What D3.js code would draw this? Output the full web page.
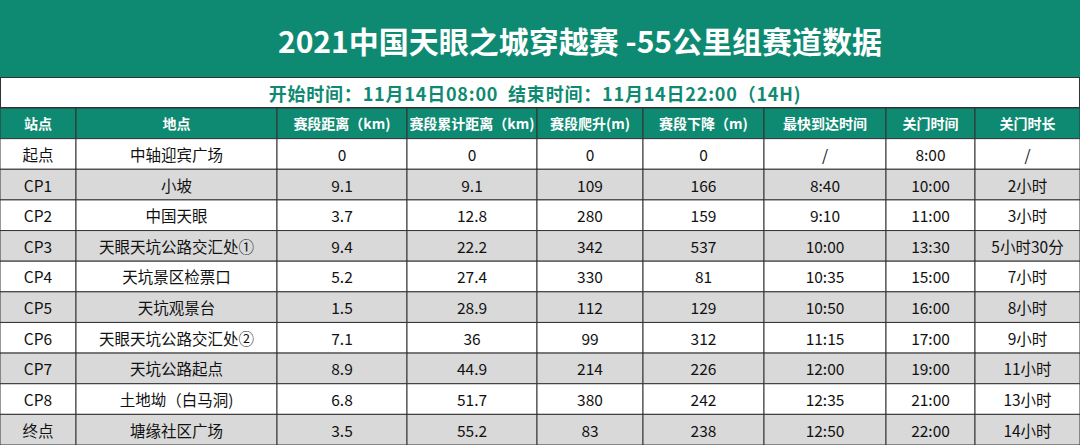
<!DOCTYPE html>
<html><head><meta charset="utf-8">
<script src="https://cdn.jsdelivr.net/npm/d3@7"></script>
<style>body{margin:0;background:#fff}text{font-family:"Noto Sans CJK SC","Noto Sans",sans-serif}</style>
</head><body><div id="chart"></div>
<script>
// table data
var title = "2021中国天眼之城穿越赛 -55公里组赛道数据";
var subtitle = "开始时间：11月14日08:00  结束时间：11月14日22:00（14H)";
var headers = ["站点", "地点", "赛段距离（km)", "赛段累计距离（km)", "赛段爬升(m)", "赛段下降（m)", "最快到达时间", "关门时间", "关门时长"];
var stations = ["起点", "CP1", "CP2", "CP3", "CP4", "CP5", "CP6", "CP7", "CP8", "终点"];
var places = ["中轴迎宾广场", "小坡", "中国天眼", "天眼天坑公路交汇处①", "天坑景区检票口", "天坑观景台", "天眼天坑公路交汇处②", "天坑公路起点", "土地坳（白马洞)", "塘缘社区广场"];
var segDist = ["0", "9.1", "3.7", "9.4", "5.2", "1.5", "7.1", "8.9", "6.8", "3.5"];
var cumDist = ["0", "9.1", "12.8", "22.2", "27.4", "28.9", "36", "44.9", "51.7", "55.2"];
var climb = ["0", "109", "280", "342", "330", "112", "99", "214", "380", "83"];
var descent = ["0", "166", "159", "537", "81", "129", "312", "226", "242", "238"];
var fastest = ["/", "8:40", "9:10", "10:00", "10:35", "10:50", "11:15", "12:00", "12:35", "12:50"];
var closeTime = ["8:00", "10:00", "11:00", "13:30", "15:00", "16:00", "17:00", "19:00", "21:00", "22:00"];
var closeDur = ["/", "2小时", "3小时", "5小时30分", "7小时", "8小时", "9小时", "11小时", "13小时", "14小时"];

var svgWidth = 1080, svgHeight = 445;
var teal = "#0f8a72";
var colEdges = [0, 76, 277, 407, 537, 643, 764, 886, 975, 1080];
var columns = [stations, places, segDist, cumDist, climb, descent, fastest, closeTime, closeDur];

var svg = d3.select("#chart").append("svg")
  .attr("width", svgWidth).attr("height", svgHeight);

// title band
svg.append("rect").attr("x", 0).attr("y", 0).attr("width", svgWidth).attr("height", 77).attr("fill", teal);
svg.append("text").attr("x", 580).attr("y", 40).attr("text-anchor", "middle").attr("dominant-baseline", "central")
  .attr("fill", "#fff").attr("font-size", 30).attr("font-weight", "bold").text(title);
svg.append("rect").attr("x", 0.5).attr("y", 77.5).attr("width", svgWidth - 1).attr("height", 30).attr("fill", "#fff").attr("stroke", "#333");
svg.append("text").attr("x", 535).attr("y", 93).attr("text-anchor", "middle").attr("dominant-baseline", "central")
  .attr("fill", teal).attr("font-size", 18).attr("font-weight", "bold").attr("letter-spacing", 0.8)
  .attr("xml:space", "preserve").style("white-space", "pre").text(subtitle);

// rows: header + data
var rowKeys = d3.range(stations.length + 1);
var y = d3.scaleBand().domain(rowKeys).range([108, 445]);

var rows = svg.selectAll("g.row").data(rowKeys).enter().append("g")
  .attr("class", "row").attr("transform", d => `translate(0,${y(d)})`);

rows.selectAll("rect").data(r => columns.map((c, i) => ({r: r, i: i}))).enter().append("rect")
  .attr("x", d => colEdges[d.i]).attr("y", 0)
  .attr("width", d => colEdges[d.i + 1] - colEdges[d.i]).attr("height", y.bandwidth())
  .attr("fill", d => d.r === 0 ? teal : (d.r % 2 === 0 ? "#d9d9d9" : "#fff"))
  .attr("stroke", "#333").attr("stroke-width", 1);

rows.selectAll("text").data(r => columns.map((c, i) => ({r: r, i: i}))).enter().append("text")
  .attr("x", d => (colEdges[d.i] + colEdges[d.i + 1]) / 2)
  .attr("y", y.bandwidth() / 2)
  .attr("text-anchor", "middle").attr("dominant-baseline", "central")
  .attr("font-size", d => d.r === 0 ? 14 : 15.5)
  .attr("font-weight", d => d.r === 0 ? "bold" : "normal")
  .attr("fill", d => d.r === 0 ? "#fff" : "#111")
  .text(d => d.r === 0 ? headers[d.i] : columns[d.i][d.r - 1]);
</script></body></html>
